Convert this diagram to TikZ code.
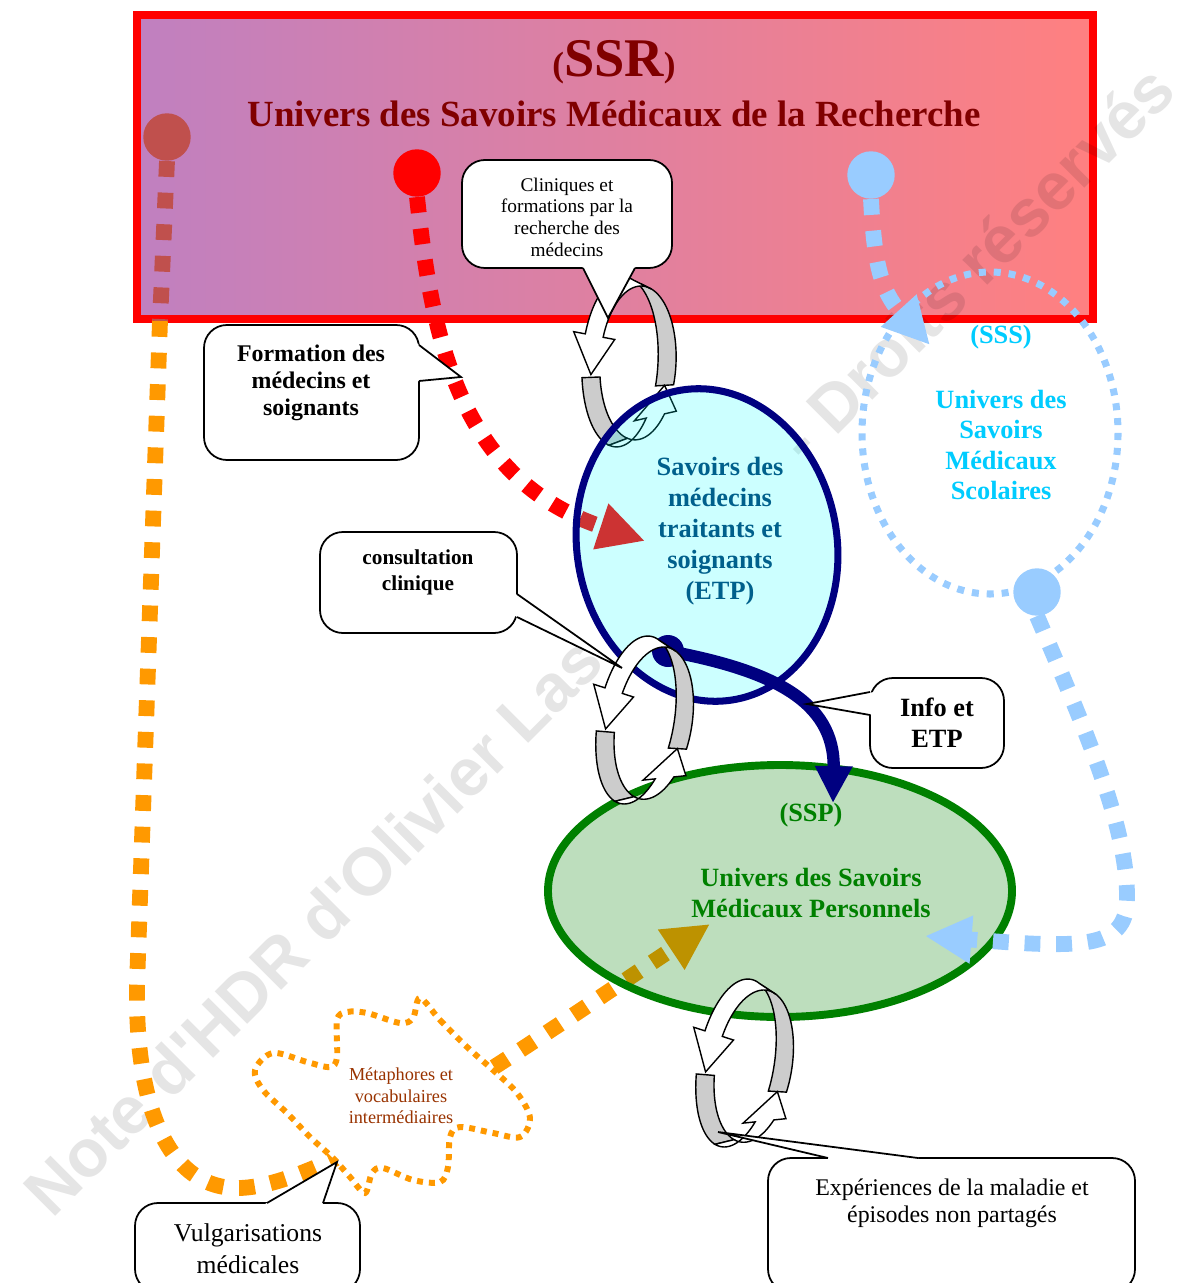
\documentclass[tikz,border=0pt]{standalone}
\usepackage{fontspec}
\setmainfont{Liberation Serif}
\newfontfamily\wmfont{Liberation Sans}
\usetikzlibrary{arrows.meta}
\usepackage{xcolor}

\definecolor{ssrred}{RGB}{128,0,0}
\definecolor{ssrleft}{RGB}{192,128,192}
\definecolor{ssrright}{RGB}{255,128,128}
\definecolor{dotbrown}{RGB}{192,80,77}
\definecolor{skyblue}{RGB}{153,204,255}
\definecolor{ssscyan}{RGB}{0,204,255}
\definecolor{etpcyan}{RGB}{0,255,255}
\definecolor{etpteal}{RGB}{0,96,140}
\definecolor{etpnavy}{RGB}{0,0,128}
\definecolor{sspgreen}{RGB}{0,128,0}
\definecolor{orangeline}{RGB}{255,153,0}
\definecolor{metabrown}{RGB}{153,51,0}
\definecolor{ringgrayc}{RGB}{204,204,204}

\tikzset{
  squaredots/.style={line width=9pt, dash pattern=on 9pt off 9pt},
  bigtip/.style={-{Triangle[length=26.5pt,width=25.5pt]}},
  knot/.style={circle, minimum size=27pt, inner sep=0pt},
  callout/.style={draw=black, fill=white, line width=1pt, rounded corners=13pt},
  pointer/.style={draw=black, line width=1pt},
  ringgray/.style={draw=black, fill=ringgrayc, line width=0.8pt},
  ringwhite/.style={draw=black, fill=white, line width=0.8pt},
  calltext/.style={align=center, inner sep=0pt},
  watermark/.style={font=\wmfont\bfseries\fontsize{38}{40}\selectfont, text=black, text opacity=0.1, rotate=45, inner sep=0pt}
}

% ring with two round arrows, centre x, centre y, tilt
\newcommand{\ringarrows}[3]{%
\begin{scope}[shift={(#1,#2)}, rotate=#3]
  \filldraw[ringgray] plot[domain=-75:15, samples=30] ({38*cos(\x)},{85*sin(\x)}) -- plot[domain=15:-75, samples=30] ({18+38*cos(\x)},{77*sin(\x)}) -- cycle;
  \filldraw[ringgray] plot[domain=100:168, samples=30] ({38*cos(\x)},{85*sin(\x)}) -- plot[domain=168:100, samples=30] ({18+38*cos(\x)},{77*sin(\x)}) -- cycle;
  \filldraw[ringwhite] plot[domain=285:198, samples=30] ({38*cos(\x)},{85*sin(\x)}) -- ({38*cos(198)-11.7},{90.2*sin(198)}) -- ({9+38*cos(170)},{81*sin(170)}) -- ({38*cos(198)+29.7},{71.8*sin(198)}) -- plot[domain=198:285, samples=30] ({18+38*cos(\x)},{77*sin(\x)}) -- cycle;
  \filldraw[ringwhite] plot[domain=100:40, samples=30] ({38*cos(\x)},{85*sin(\x)}) -- ({38*cos(40)-11.7},{90.2*sin(40)}) -- ({9+38*cos(15)},{81*sin(15)}) -- ({38*cos(40)+29.7},{71.8*sin(40)}) -- plot[domain=40:100, samples=30] ({18+38*cos(\x)},{77*sin(\x)}) -- cycle;
\end{scope}}

\begin{document}
\begin{tikzpicture}[x=0.02cm, y=-0.02cm]
\useasboundingbox (0,0) rectangle (1187,1283);

% univers de la recherche
\shade[left color=ssrleft, right color=ssrright] (137,15) rectangle (1093,319);
\draw[red, line width=4.5pt] (137,15) rectangle (1093,319);

\node[watermark, anchor=base west] (wmA) at (52,1220) {Note d'HDR d'Olivier Las};
\node[watermark, anchor=base west] (wmB) at (806,467) {- Droits réservés};

% univers scolaire
\draw[skyblue, line width=4pt, dash pattern=on 4pt off 4.5pt] (990,433) ellipse [x radius=128, y radius=161];

\node[knot, fill=dotbrown] (brownDot) at (167,137) {};
\node[knot, fill=red] (redDot) at (417,173) {};
\node[knot, fill=skyblue] (skyDotA) at (871,175) {};
\node[knot, fill=skyblue] (skyDotB) at (1037,592) {};

\coordinate (orangeStart) at (160,321);
\coordinate (metaTip) at (710,924);
\coordinate (redTip) at (645,541);
\coordinate (skyTipA) at (930,345);
\coordinate (skyTipB) at (925,936);
\coordinate (navyStart) at (668,651);
\coordinate (navyTip) at (833,803);

% vulgarisation
\draw[squaredots, dotbrown] (brownDot.south) -- (orangeStart);
\draw[squaredots, orangeline, bigtip] (orangeStart) -- (137,985) .. controls (135,1110) and (170,1190) .. (240,1188) .. controls (330,1185) and (520,1050) .. (metaTip);

% formation
\draw[squaredots, red, bigtip] (redDot.south) .. controls (432,340) and (460,480) .. (redTip);

% nuage
\draw[orangeline, line width=3.4pt, dash pattern=on 3.4pt off 3.4pt, fill=white] plot[smooth cycle, tension=0.55] coordinates {(420,998) (440,1020) (467,1047) (493,1070) (517,1093) (530,1118) (520,1137) (493,1133) (460,1127) (450,1137) (448,1167) (440,1182) (413,1180) (383,1168) (372,1173) (365,1193) (350,1177) (333,1158) (310,1137) (287,1113) (263,1090) (255,1070) (273,1053) (307,1062) (330,1067) (337,1057) (337,1020) (347,1012) (367,1013) (400,1023) (413,1018)};
\node[calltext, text=metabrown, font=\fontsize{10.4}{12.2}\selectfont] (metaText) at (401,1096) {Métaphores et\\vocabulaires\\intermédiaires};

\ringarrows{620}{362}{-3}

% savoirs des soignants
\draw[etpnavy, line width=4pt, fill=etpcyan, fill opacity=0.2, rotate around={10:(707,545)}] (707,545) ellipse [x radius=130, y radius=157];
\node[calltext, text=etpteal, font=\bfseries\fontsize{15}{17.6}\selectfont] (etpText) at (720,531) {Savoirs des\\médecins\\traitants et\\soignants\\(ETP)};

% savoirs personnels
\draw[sspgreen, line width=4.5pt, fill=sspgreen, fill opacity=0.26] (780,891) ellipse [x radius=232, y radius=126];
\node[calltext, text=sspgreen, font=\bfseries\fontsize{15}{17.6}\selectfont] (sspTag) at (811,815) {(SSP)};
\node[calltext, text=sspgreen, font=\bfseries\fontsize{15}{17.6}\selectfont] (sspText) at (811,893) {Univers des Savoirs\\Médicaux Personnels};

\node[calltext, text=ssscyan, font=\bfseries\fontsize{15}{17.4}\selectfont] (sssTag) at (1001,337) {(SSS)};
\node[calltext, text=ssscyan, font=\bfseries\fontsize{15}{17.4}\selectfont] (sssText) at (1001,445) {Univers des\\Savoirs\\Médicaux\\Scolaires};

\draw[squaredots, skyblue, bigtip] (skyDotA.south) .. controls (874,260) and (880,290) .. (skyTipA);
\draw[squaredots, skyblue, bigtip] (skyDotB.south) .. controls (1090,740) and (1128,830) .. (1127,900) .. controls (1126,950) and (1080,948) .. (skyTipB);

% info et ETP
\fill[etpnavy] (navyStart) circle [radius=16];
\draw[etpnavy, line width=7pt, -{Triangle[length=21pt,width=20pt]}] (navyStart) .. controls (770,670) and (835,700) .. (navyTip);

\ringarrows{636}{720}{-10}
\ringarrows{736}{1063}{-10}

% bulles
\coordinate (clinTip) at (608,318);
\draw[callout] (462,160) rectangle (672,268);
\fill[white] (581,264) -- (clinTip) -- (637,264) -- cycle;
\draw[pointer] (583,268) -- (clinTip) -- (635,268);
\node[calltext, font=\fontsize{11}{12.3}\selectfont] (clinText) at (567,217) {Cliniques et\\formations par la\\recherche des\\médecins};

\coordinate (formTip) at (461,377);
\draw[callout] (204,325) rectangle (419,460);
\fill[white] (415,342) -- (formTip) -- (415,381.4) -- cycle;
\draw[pointer] (419,345) -- (formTip) -- (419,381);
\node[calltext, font=\bfseries\fontsize{13.6}{15.4}\selectfont] (formText) at (311,383) {Formation des\\médecins et\\soignants};

\coordinate (consTip) at (622,668);
\draw[callout] (320,532) rectangle (517,633);
\fill[white] (513,592) -- (consTip) -- (513,615) -- cycle;
\draw[pointer] (517,594) -- (consTip) -- (517,617);
\node[calltext, font=\bfseries\fontsize{12.1}{14.8}\selectfont] (consText) at (418,572) {consultation\\clinique};

\coordinate (infoTip) at (807,704);
\draw[callout] (870,678) rectangle (1004,768);
\fill[white] (874,692) -- (infoTip) -- (874,715) -- cycle;
\draw[pointer] (870,692) -- (infoTip) -- (870,715);
\node[calltext, font=\bfseries\fontsize{15}{17.6}\selectfont] (infoText) at (937,723) {Info et\\ETP};

\coordinate (vulgTip) at (337,1162);
\draw[callout] (135,1203) rectangle (360,1292);
\fill[white] (260,1207) -- (vulgTip) -- (321.6,1207) -- cycle;
\draw[pointer] (267,1203) -- (vulgTip) -- (323,1203);
\node[calltext, font=\fontsize{14.6}{18.2}\selectfont] (vulgText) at (248,1249) {Vulgarisations\\médicales};

\coordinate (expTip) at (718,1132);
\draw[callout] (768,1158) rectangle (1135,1292);
\fill[white] (expTip) -- (828,1157) -- (828,1161) -- (918,1161) -- (918,1157) -- cycle;
\draw[pointer] (828,1158) -- (expTip) -- (918,1158);
\node[calltext, font=\fontsize{13.6}{15.4}\selectfont] (expText) at (952,1203) {Expériences de la maladie et\\épisodes non partagés};

% titre
\node[text=ssrred, font=\bfseries] (ssrTag) at (614,62) {{\fontsize{20}{24}\selectfont(}{\fontsize{31}{36}\selectfont SSR}{\fontsize{20}{24}\selectfont)}};
\node[text=ssrred, font=\bfseries\fontsize{21}{25}\selectfont] (ssrName) at (614,114) {Univers des Savoirs Médicaux de la Recherche};
\end{tikzpicture}
\end{document}
